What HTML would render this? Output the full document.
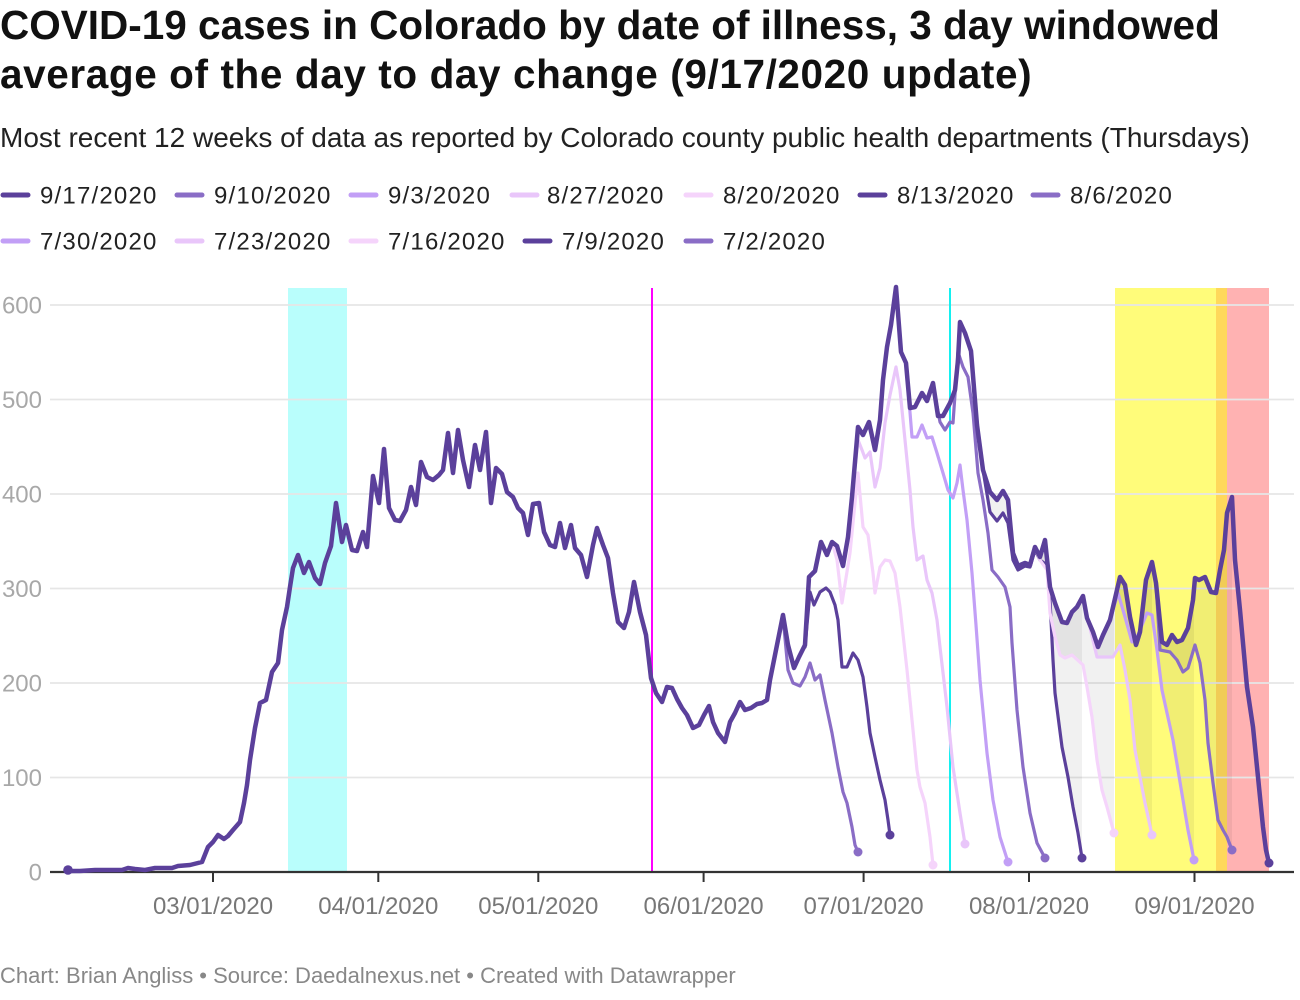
<!DOCTYPE html>
<html>
<head>
<meta charset="utf-8">
<style>
  html,body{margin:0;padding:0;background:#fff;}
  body{width:1300px;height:1000px;overflow:hidden;}
  svg{display:block;}
  text{font-family:"Liberation Sans", Arial, sans-serif;}
</style>
</head>
<body>
<svg width="1300" height="1000" viewBox="0 0 1300 1000" xmlns="http://www.w3.org/2000/svg">
  <rect x="0" y="0" width="1300" height="1000" fill="#fff"/>

  <!-- Title -->
  <text x="0" y="39" font-size="40.5" font-weight="bold" fill="#111">COVID-19 cases in Colorado by date of illness, 3 day windowed</text>
  <text x="0" y="88" font-size="40.5" font-weight="bold" fill="#111" letter-spacing="0.6">average of the day to day change (9/17/2020 update)</text>
  <!-- Subtitle -->
  <text x="0" y="147" font-size="28" fill="#222">Most recent 12 weeks of data as reported by Colorado county public health departments (Thursdays)</text>

  <!-- Legend row 1 -->
  <g font-size="24" fill="#222" stroke-linecap="round" stroke-width="5" letter-spacing="1.2">
    <line x1="3" y1="195" x2="28" y2="195" stroke="#5b409b"/>
    <text x="40" y="203.5" stroke="none">9/17/2020</text>
    <line x1="177" y1="195" x2="202" y2="195" stroke="#8a6dc6"/>
    <text x="214" y="203.5" stroke="none">9/10/2020</text>
    <line x1="351" y1="195" x2="376" y2="195" stroke="#c29ff6"/>
    <text x="388" y="203.5" stroke="none">9/3/2020</text>
    <line x1="512" y1="195" x2="537" y2="195" stroke="#e9c6fa"/>
    <text x="547" y="203.5" stroke="none">8/27/2020</text>
    <line x1="686" y1="195" x2="711" y2="195" stroke="#f5d4fb"/>
    <text x="723" y="203.5" stroke="none">8/20/2020</text>
    <line x1="860" y1="195" x2="885" y2="195" stroke="#5b409b"/>
    <text x="897" y="203.5" stroke="none">8/13/2020</text>
    <line x1="1033" y1="195" x2="1058" y2="195" stroke="#8a6dc6"/>
    <text x="1070" y="203.5" stroke="none">8/6/2020</text>

    <!-- Legend row 2 -->
    <line x1="3" y1="241" x2="28" y2="241" stroke="#c29ff6"/>
    <text x="40" y="249.5" stroke="none">7/30/2020</text>
    <line x1="177" y1="241" x2="202" y2="241" stroke="#e9c6fa"/>
    <text x="214" y="249.5" stroke="none">7/23/2020</text>
    <line x1="351" y1="241" x2="376" y2="241" stroke="#f5d4fb"/>
    <text x="388" y="249.5" stroke="none">7/16/2020</text>
    <line x1="525" y1="241" x2="550" y2="241" stroke="#5b409b"/>
    <text x="562" y="249.5" stroke="none">7/9/2020</text>
    <line x1="686" y1="241" x2="711" y2="241" stroke="#8a6dc6"/>
    <text x="723" y="249.5" stroke="none">7/2/2020</text>
  </g>

  <!-- Bands -->
  <rect x="288" y="288" width="59" height="584" fill="#b9fefc"/>
  <rect x="1115" y="288" width="101" height="584" fill="#fffc7a"/>
  <rect x="1216" y="288" width="11" height="584" fill="#ffd85b"/>
  <rect x="1227" y="288" width="42" height="584" fill="#ffb2b2"/>

  <!-- Gridlines -->
  <g stroke="#e6e6e6" stroke-width="1.7">
    <line x1="50" y1="305" x2="1294" y2="305"/>
    <line x1="50" y1="399.5" x2="1294" y2="399.5"/>
    <line x1="50" y1="494" x2="1294" y2="494"/>
    <line x1="50" y1="588.5" x2="1294" y2="588.5"/>
    <line x1="50" y1="683" x2="1294" y2="683"/>
    <line x1="50" y1="777.5" x2="1294" y2="777.5"/>
  </g>

  <!-- Y labels -->
  <g font-size="24" fill="#a8a8a8" text-anchor="end">
    <text x="42" y="313.5">600</text>
    <text x="42" y="408">500</text>
    <text x="42" y="502.5">400</text>
    <text x="42" y="597">300</text>
    <text x="42" y="691.5">200</text>
    <text x="42" y="786">100</text>
    <text x="42" y="880.5">0</text>
  </g>

  <!-- Vertical marker lines -->
  <line x1="652" y1="288" x2="652" y2="872" stroke="#ff00ff" stroke-width="2"/>
  <line x1="950" y1="288" x2="950" y2="872" stroke="#14f0f0" stroke-width="2"/>

  <!-- Axis -->
  <line x1="50" y1="872" x2="1294" y2="872" stroke="#333" stroke-width="2.2"/>
  <g stroke="#333" stroke-width="2">
    <line x1="213" y1="872" x2="213" y2="882"/>
    <line x1="378.3" y1="872" x2="378.3" y2="882"/>
    <line x1="538.3" y1="872" x2="538.3" y2="882"/>
    <line x1="703.6" y1="872" x2="703.6" y2="882"/>
    <line x1="863.6" y1="872" x2="863.6" y2="882"/>
    <line x1="1029" y1="872" x2="1029" y2="882"/>
    <line x1="1194.5" y1="872" x2="1194.5" y2="882"/>
  </g>
  <g font-size="24" fill="#777" text-anchor="middle">
    <text x="213" y="914">03/01/2020</text>
    <text x="378.3" y="914">04/01/2020</text>
    <text x="538.3" y="914">05/01/2020</text>
    <text x="703.6" y="914">06/01/2020</text>
    <text x="863.6" y="914">07/01/2020</text>
    <text x="1029" y="914">08/01/2020</text>
    <text x="1194.5" y="914">09/01/2020</text>
  </g>

  <!-- Gray area fills -->
  <g fill="#000" fill-opacity="0.055">
    <polygon points="983,470 990,492 997,500 1003,491 1008,500 1013,553 1018,566 1025,563 1030,565 1035,547 1040,557 1045,540 1050,587 1055,603 1062,622 1067,623 1072,612 1077,607 1082,598 1082,858 1078,833 1073,807 1068,777 1062,747 1055,693 1053,660 1050,600 1047,565 1040,560 1035,550 1030,567 1025,566 1018,570 1013,560 1008,523 1003,513 997,521 990,512"/>
    <polygon points="1035,547 1040,557 1045,540 1050,587 1055,603 1062,622 1067,623 1072,612 1077,607 1083,596 1087,618 1093,632 1098,647 1103,635 1110,620 1114,603 1114,833 1107,807 1102,790 1097,760 1092,717 1087,687 1083,665 1072,655 1065,658 1060,655 1055,637 1050,613 1047,570 1040,560"/>
    <polygon points="1090,625 1093,632 1098,647 1103,635 1110,620 1120,577 1125,585 1130,617 1136,645 1140,632 1146,580 1152,562 1152,835 1145,803 1140,777 1135,750 1130,700 1125,670 1120,645 1113,657 1103,657 1097,657"/>
    <polygon points="1110,620 1120,577 1125,585 1130,617 1136,645 1140,632 1146,580 1152,562 1156,583 1162,642 1167,645 1172,635 1177,642 1182,640 1188,628 1193,600 1194,589 1194,860 1188,830 1183,800 1178,770 1173,740 1167,713 1162,690 1157,650 1152,615 1147,613 1137,637 1132,642 1125,617 1118,593"/>
    <polygon points="1156,583 1162,642 1167,645 1172,635 1177,642 1182,640 1188,628 1193,600 1195,578 1199,580 1205,577 1211,592 1216,593 1220,570 1224,550 1227,513 1232,497 1232,850 1227,837 1223,830 1218,820 1213,783 1208,743 1205,700 1200,663 1195,645 1188,668 1183,672 1177,660 1170,652 1160,650"/>
  </g>

  <!-- Older series tails -->
  <g fill="none" stroke-width="3.2" stroke-linejoin="round" stroke-linecap="round">
    <polyline stroke="#8a6dc6" points="775,655 783,617 788,670 793,683 800,686 805,677 810,663 815,680 820,675 825,700 832,733 838,767 843,792 847,803 852,827 855,845 858,852"/>
    <polyline stroke="#5b409b" points="805,647 810,592 814,605 820,592 826,588 830,592 835,605 838,620 842,667 847,667 853,653 858,660 863,677 867,707 870,733 875,757 880,780 885,800 888,820 890,835"/>
    <polyline stroke="#f5d4fb" points="832,542 837,560 842,603 850,553 858,473 863,527 868,535 873,573 875,593 880,567 885,560 890,561 895,573 900,607 907,670 912,720 917,770 920,787 925,803 930,837 933,865"/>
    <polyline stroke="#e9c6fa" points="852,497 858,440 862,450 865,458 870,452 875,487 880,468 885,423 890,395 896,367 900,390 905,440 910,490 913,527 917,560 923,556 927,580 932,593 937,620 940,647 947,707 953,767 960,813 965,844"/>
    <polyline stroke="#c29ff6" points="906,363 909,400 912,437 917,437 922,425 927,438 932,437 937,453 943,473 948,490 953,498 957,483 960,465 963,490 967,520 972,573 976,625 980,680 987,753 993,800 1000,837 1008,862"/>
    <polyline stroke="#8a6dc6" points="933,385 940,422 945,430 950,422 953,423 958,352 963,367 968,377 973,413 978,473 983,500 988,533 992,570 998,577 1005,587 1010,607 1012,643 1017,710 1023,767 1030,813 1037,843 1045,858"/>
    <polyline stroke="#5b409b" points="983,470 990,512 997,521 1003,513 1008,523 1013,560 1018,570 1025,566 1030,567 1035,550 1040,560 1047,565 1050,600 1053,660 1055,693 1062,747 1068,777 1073,807 1078,833 1082,858"/>
    <polyline stroke="#f5d4fb" points="1035,548 1040,560 1047,570 1050,613 1055,637 1060,655 1065,658 1072,655 1083,665 1087,687 1092,717 1097,760 1102,790 1107,807 1114,833"/>
    <polyline stroke="#e9c6fa" points="1087,618 1090,628 1097,657 1103,657 1113,657 1120,645 1125,670 1130,700 1135,750 1140,777 1145,803 1152,835"/>
    <polyline stroke="#c29ff6" points="1110,620 1118,593 1125,617 1132,642 1137,637 1147,613 1152,615 1157,650 1162,690 1167,713 1173,740 1178,770 1183,800 1188,830 1194,860"/>
    <polyline stroke="#8a6dc6" points="1156,583 1160,650 1170,652 1177,660 1183,672 1188,668 1195,645 1200,663 1205,700 1208,743 1213,783 1218,820 1223,830 1227,837 1232,850"/>
  </g>

  <!-- Main 9/17 series -->
  <polyline fill="none" stroke="#5b409b" stroke-width="4.5" stroke-linejoin="round" stroke-linecap="round" points="68,871 80,871 95,870 110,870 122,870 128,868 135,869 145,870 155,868 165,868 172,868 178,866 190,865 198,863 202,862 208,847 213,842 218,835 224,839 228,836 233,830 240,822 244,803 247,785 250,760 255,728 260,703 266,700 272,672 278,663 282,630 287,607 290,587 293,568 298,555 304,573 309,562 315,578 320,584 325,563 331,546 336,503 342,542 346,525 352,550 357,551 363,532 367,547 373,476 379,503 384,449 389,508 395,520 400,521 406,510 411,487 416,505 421,462 427,477 433,480 439,475 443,470 448,433 453,473 458,430 463,460 469,487 475,445 480,470 486,432 491,503 496,468 502,474 507,492 513,497 518,508 523,513 528,535 533,504 539,503 544,532 550,545 555,547 560,523 565,548 571,525 575,548 581,555 587,577 593,545 597,528 603,545 608,558 613,593 618,622 624,628 629,612 634,582 640,612 646,635 651,678 656,693 662,702 667,687 672,688 677,699 682,708 687,715 693,728 699,725 704,715 709,706 713,722 718,733 725,742 730,722 735,713 740,702 745,710 751,708 757,704 762,703 767,700 770,680 775,655 783,615 788,645 794,668 799,657 805,645 809,577 815,571 821,542 827,555 832,542 837,546 843,566 848,537 852,497 858,427 863,435 869,422 875,450 880,420 883,380 887,347 891,325 896,287 901,352 906,363 910,408 915,407 922,393 927,401 933,383 938,416 943,416 950,403 955,390 958,360 960,322 965,333 971,351 977,425 983,470 990,492 997,500 1003,491 1008,500 1013,553 1018,566 1025,563 1030,565 1035,547 1040,557 1045,540 1050,587 1055,603 1062,622 1067,623 1072,612 1077,607 1083,596 1087,618 1093,632 1098,647 1103,635 1110,620 1120,577 1125,585 1130,617 1136,645 1140,632 1146,580 1152,562 1156,583 1162,642 1167,645 1172,635 1177,642 1182,640 1188,628 1193,600 1195,578 1199,580 1205,577 1211,592 1216,593 1220,570 1224,550 1227,513 1232,497 1235,560 1240,610 1247,687 1253,727 1258,777 1263,827 1266,850 1269,863"/>

  <!-- End dots -->
  <g>
    <circle cx="68" cy="870" r="4.8" fill="#5b409b"/>
    <circle cx="858" cy="852" r="4.5" fill="#8a6dc6"/>
    <circle cx="890" cy="835" r="4.5" fill="#5b409b"/>
    <circle cx="933" cy="865" r="4.5" fill="#f5d4fb"/>
    <circle cx="965" cy="844" r="4.5" fill="#e9c6fa"/>
    <circle cx="1008" cy="862" r="4.5" fill="#c29ff6"/>
    <circle cx="1045" cy="858" r="4.5" fill="#8a6dc6"/>
    <circle cx="1082" cy="858" r="4.5" fill="#5b409b"/>
    <circle cx="1114" cy="833" r="4.5" fill="#f5d4fb"/>
    <circle cx="1152" cy="835" r="4.5" fill="#e9c6fa"/>
    <circle cx="1194" cy="860" r="4.5" fill="#c29ff6"/>
    <circle cx="1232" cy="850" r="4.5" fill="#8a6dc6"/>
    <circle cx="1269" cy="863" r="4.5" fill="#5b409b"/>
  </g>

  <!-- Footer -->
  <text x="0" y="983" font-size="22" fill="#888">Chart: Brian Angliss • Source: Daedalnexus.net • Created with Datawrapper</text>
</svg>
</body>
</html>
